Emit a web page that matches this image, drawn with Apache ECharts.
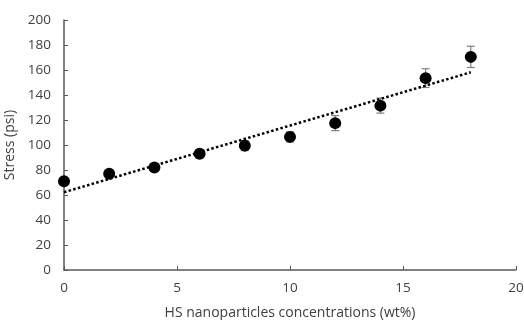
<!DOCTYPE html>
<html>
<head>
<meta charset="utf-8">
<script src="https://cdn.jsdelivr.net/npm/echarts@6/dist/echarts.min.js"></script>
<style>
  html, body { margin: 0; padding: 0; background: #fff; }
  #chart { width: 524px; height: 320px; }
</style>
</head>
<body>
<div id="chart"></div>
<script>
// data
const concentrations = [0, 2, 4, 6, 8, 10, 12, 14, 16, 18];
const stress = [71, 77, 82, 93, 99.5, 106.5, 117.5, 131.5, 153.5, 170.5];
const stressErr = [2, 2, 2, 3, 4, 4, 6, 6, 7.5, 8.5];

// linear trendline (least squares, like the spreadsheet does)
const n = concentrations.length;
const mx = concentrations.reduce((a, b) => a + b, 0) / n;
const my = stress.reduce((a, b) => a + b, 0) / n;
let sxy = 0, sxx = 0;
for (let i = 0; i < n; i++) {
  sxy += (concentrations[i] - mx) * (stress[i] - my);
  sxx += (concentrations[i] - mx) * (concentrations[i] - mx);
}
const slope = sxy / sxx;
const intercept = my - slope * mx;
const xFirst = concentrations[0], xLast = concentrations[n - 1];
const trend = [[xFirst, intercept + slope * xFirst], [xLast, intercept + slope * xLast]];

const pts = concentrations.map((x, i) => [x, stress[i]]);
const errData = concentrations.map((x, i) => [x, stress[i] - stressErr[i], stress[i] + stressErr[i]]);

const font = '"Open Sans", "Noto Sans", sans-serif';
const axisCol = '#595959';
const textCol = '#404040';

const chart = echarts.init(document.getElementById('chart'));
chart.setOption({
  animation: false,
  grid: { left: 64, right: 8, top: 20, bottom: 50, outerBoundsMode: 'none' },
  xAxis: {
    type: 'value',
    min: 0, max: 20, interval: 5,
    name: 'HS nanoparticles concentrations (wt%)',
    nameLocation: 'middle',
    nameGap: 36,
    nameTextStyle: { fontFamily: font, fontSize: 14, color: textCol },
    axisLine: { lineStyle: { color: axisCol, width: 1.5 } },
    axisTick: { inside: true, length: 4, lineStyle: { color: axisCol } },
    axisLabel: { fontFamily: font, fontSize: 13.5, color: textCol, margin: 11 },
    splitLine: { show: false }
  },
  yAxis: {
    type: 'value',
    min: 0, max: 200, interval: 20,
    name: 'Stress (psi)',
    nameLocation: 'middle',
    nameGap: 43,
    nameTextStyle: { fontFamily: font, fontSize: 14, color: textCol },
    axisLine: { show: true, lineStyle: { color: axisCol, width: 1.5 } },
    axisTick: { show: true, inside: true, length: 4, lineStyle: { color: axisCol } },
    axisLabel: { fontFamily: font, fontSize: 13.5, color: textCol, margin: 13 },
    splitLine: { show: false }
  },
  series: [
    {
      type: 'line',
      data: trend,
      symbol: 'none',
      lineStyle: { color: '#000', width: 2.5, type: [2.5, 2.3] },
      z: 3
    },
    {
      type: 'custom',
      data: errData,
      z: 2,
      renderItem: function (params, api) {
        const x = api.value(0);
        const lo = api.coord([x, api.value(1)]);
        const hi = api.coord([x, api.value(2)]);
        const w = 4;
        const style = { stroke: '#808080', lineWidth: 1.2 };
        return {
          type: 'group',
          children: [
            { type: 'line', shape: { x1: lo[0], y1: lo[1], x2: hi[0], y2: hi[1] }, style: style },
            { type: 'line', shape: { x1: lo[0] - w, y1: lo[1], x2: lo[0] + w, y2: lo[1] }, style: style },
            { type: 'line', shape: { x1: hi[0] - w, y1: hi[1], x2: hi[0] + w, y2: hi[1] }, style: style }
          ]
        };
      }
    },
    {
      type: 'scatter',
      data: pts,
      symbol: 'circle',
      symbolSize: 12,
      itemStyle: { color: '#000', opacity: 1 },
      z: 4
    }
  ]
});
</script>
</body>
</html>
